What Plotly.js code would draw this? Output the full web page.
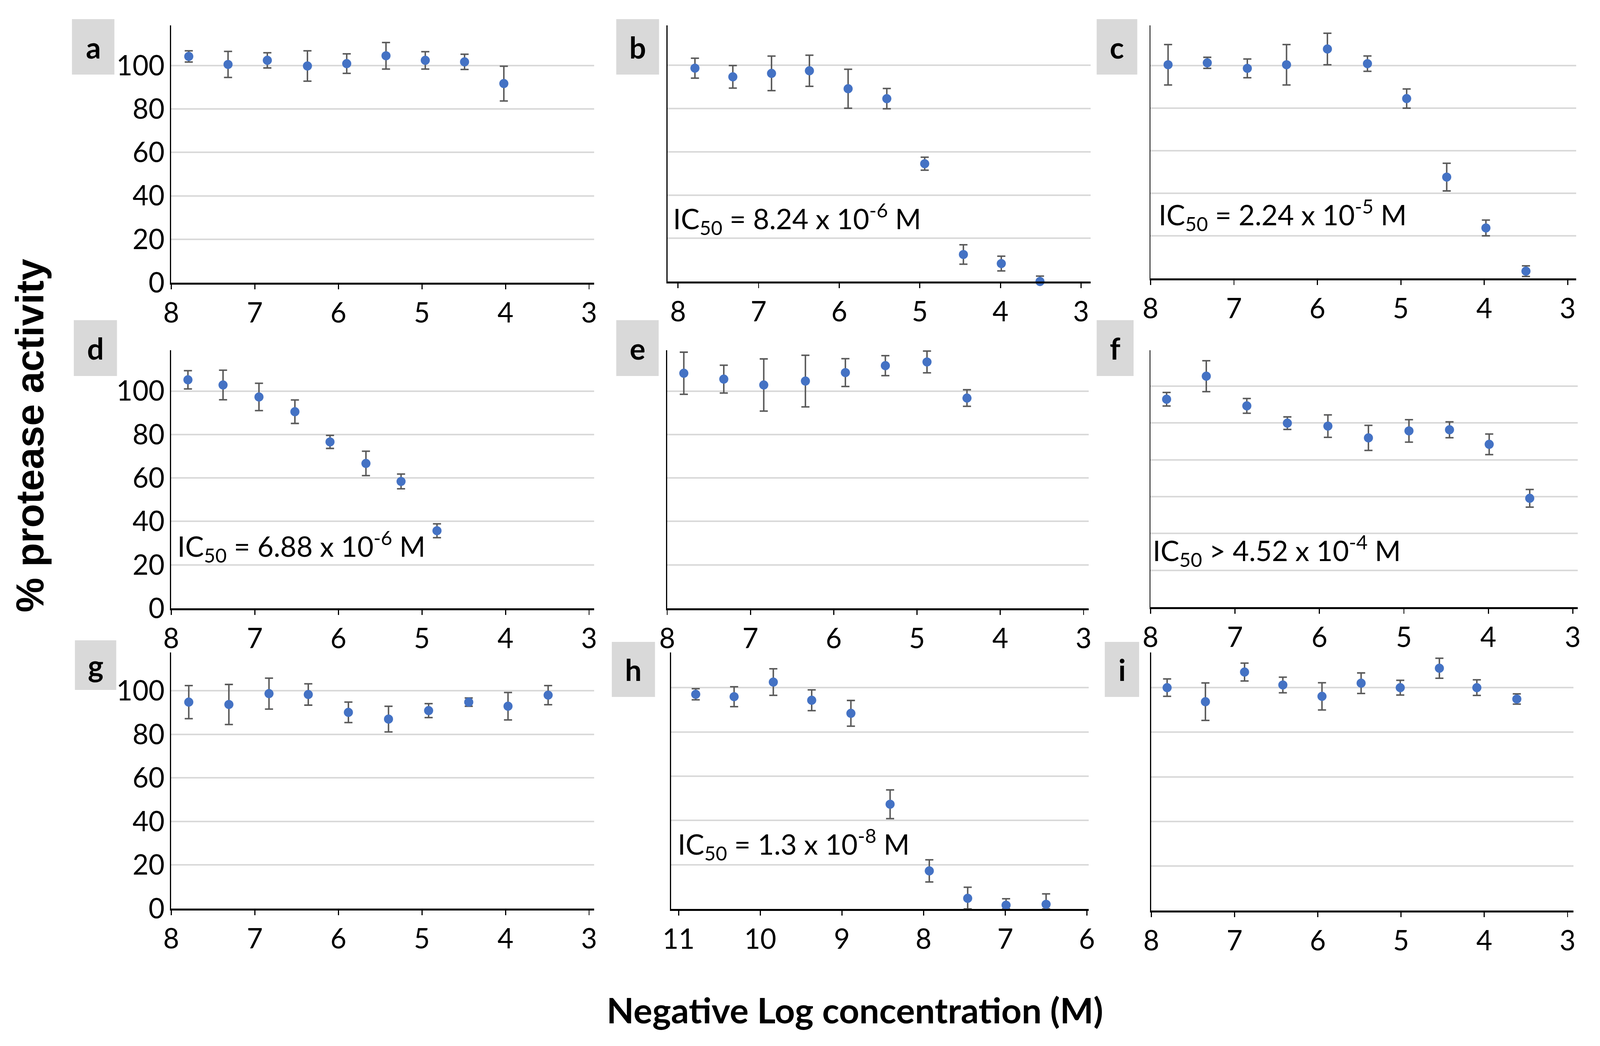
<!DOCTYPE html>
<html>
<head>
<meta charset="utf-8">
<script src="https://cdn.plot.ly/plotly-3.0.1.min.js"></script>
<style>
  html, body { margin: 0; padding: 0; background: #fff; overflow: hidden; }
</style>
</head>
<body>
<div id="chart_div"></div>
<script>
// values: x = negative log concentration, y = % activity, e = error
var xA = [7.79, 7.32, 6.85, 6.37, 5.90, 5.43, 4.96, 4.49, 4.02];
var yA = [104.2, 100.5, 102.4, 99.8, 100.9, 104.5, 102.4, 101.7, 91.7];
var eA = [2.6, 6.0, 3.5, 7.0, 4.5, 6.1, 4.0, 3.5, 8.0];

var xB = [7.79, 7.32, 6.84, 6.37, 5.89, 5.41, 4.94, 4.46, 3.99, 3.51];
var yB = [98.7, 94.7, 96.3, 97.5, 89.2, 84.6, 54.5, 12.5, 8.3, 0.0];
var eB = [4.6, 5.2, 8.0, 7.2, 9.0, 4.7, 3.0, 4.5, 3.4, 2.5];
var eBlow = [4.6, 5.2, 8.0, 7.2, 9.0, 4.7, 3.0, 4.5, 3.4, 0.0];

var xC = [7.79, 7.32, 6.84, 6.37, 5.88, 5.40, 4.93, 4.45, 3.98, 3.50];
var yC = [100.4, 101.3, 98.7, 100.4, 107.8, 100.9, 84.5, 47.6, 23.7, 3.4];
var eC = [9.5, 2.6, 4.4, 9.5, 7.4, 3.6, 4.5, 6.5, 3.7, 2.5];

var xD = [7.80, 7.38, 6.95, 6.52, 6.10, 5.67, 5.25, 4.82];
var yD = [105.2, 102.8, 97.3, 90.5, 76.6, 66.7, 58.4, 35.7];
var eD = [4.2, 6.8, 6.3, 5.4, 3.0, 5.6, 3.4, 3.2];

var xE = [7.80, 7.32, 6.84, 6.34, 5.86, 5.38, 4.88, 4.40];
var yE = [108.2, 105.5, 102.8, 104.6, 108.5, 111.7, 113.4, 96.8];
var eE = [9.7, 6.4, 12.0, 11.9, 6.4, 4.6, 5.0, 3.8];

var xF = [7.81, 7.34, 6.86, 6.38, 5.90, 5.42, 4.94, 4.46, 3.99, 3.51];
var yF = [112.9, 125.4, 109.3, 99.9, 98.3, 91.9, 95.7, 96.3, 88.4, 59.1];
var eF = [3.7, 8.4, 4.0, 3.4, 6.1, 6.8, 6.1, 4.3, 5.6, 4.8];

var xG = [7.79, 7.31, 6.83, 6.36, 5.88, 5.40, 4.92, 4.44, 3.97, 3.49];
var yG = [94.8, 93.7, 98.7, 98.3, 90.1, 87.0, 90.9, 94.8, 92.9, 98.0];
var eG = [7.6, 9.2, 7.1, 4.9, 4.7, 5.9, 3.2, 1.9, 6.3, 4.4];

var xH = [10.79, 10.32, 9.84, 9.37, 8.89, 8.41, 7.93, 7.46, 6.99, 6.50];
var yH = [97.0, 95.9, 102.5, 94.3, 88.4, 47.3, 17.2, 4.8, 1.7, 2.1];
var eH = [2.5, 4.5, 6.0, 4.7, 5.8, 6.5, 5.0, 5.0, 2.9, 4.7];
var eHlow = [2.5, 4.5, 6.0, 4.7, 5.8, 6.5, 5.0, 4.8, 1.7, 2.1];

var xI = [7.81, 7.35, 6.88, 6.42, 5.95, 5.48, 5.01, 4.54, 4.09, 3.61];
var yI = [100.0, 93.7, 107.0, 101.2, 96.1, 102.0, 100.0, 108.7, 100.0, 94.9];
var eI = [3.9, 8.4, 4.0, 3.5, 6.1, 4.6, 3.3, 4.5, 3.5, 2.3];

var panelLetters = ["a", "b", "c", "d", "e", "f", "g", "h", "i"];

var icB = "IC<sub>50</sub> = 8.24 x 10<sup>-6</sup> M";
var icC = "IC<sub>50</sub> = 2.24 x 10<sup>-5</sup> M";
var icD = "IC<sub>50</sub> = 6.88 x 10<sup>-6</sup> M";
var icF = "IC<sub>50</sub> &gt; 4.52 x 10<sup>-4</sup> M";
var icH = "IC<sub>50</sub> = 1.3 x 10<sup>-8</sup> M";

function drawChart() {
    // positions were measured on a 4336 x 2679 picture; the window can be narrower,
    // so lay out in fractions and scale pixel sizes
    var RW = 4336, RH = 2679;
    var W = window.innerWidth || RW;
    var H = window.innerHeight || RH;
    var sx = W / RW, sy = H / RH;
    var s = Math.min(sx, sy);
    function fx(p) { return p / RW; }
    function fy(p) { return 1 - p / RH; }

    // plot area [left, right, top, bottom] and letter box, in reference pixels
    var panels = [
        {x: xA, y: yA, e: eA, xr: [8, 2.94], yr: [0, 118.5], area: [464, 1610, 65, 724], box: [195, 310, 49, 191], lab: true},
        {x: xB, y: yB, e: eB, em: eBlow, xr: [8.13, 2.88], yr: [0, 118.5], area: [1809, 2956, 65, 721], box: [1670, 1786, 49, 191], ic: icB, icx: 0.011, icy: 29},
        {x: xC, y: yC, e: eC, xr: [8.0, 2.9], yr: [0, 118.9], area: [3118, 4271, 65, 713], box: [2972, 3082, 49, 191], ic: icC, icx: 0.017, icy: 30},
        {x: xD, y: yD, e: eD, xr: [8, 2.94], yr: [0, 118.8], area: [464, 1610, 897, 1558], box: [200, 317, 820, 963], lab: true, ic: icD, icx: 0.013, icy: 28.5},
        {x: xE, y: yE, e: eE, xr: [8, 2.94], yr: [0, 118.8], area: [1808, 2950, 897, 1558], box: [1670, 1785, 820, 963]},
        {x: xF, y: yF, e: eF, xr: [8, 2.94], yr: [0, 139.5], area: [3118, 4276, 897, 1555], box: [2972, 3072, 820, 963], ic: icF, icx: 0.003, icy: 30.7},
        {x: xG, y: yG, e: eG, xr: [8, 2.94], yr: [0, 117.6], area: [464, 1610, 1671, 2327], box: [203, 315, 1640, 1767], lab: true},
        {x: xH, y: yH, e: eH, em: eHlow, xr: [11.09, 5.98], yr: [0, 115.9], area: [1819, 2950, 1671, 2328], box: [1658, 1775, 1644, 1785], ic: icH, icx: 0.014, icy: 29.2},
        {x: xI, y: yI, e: eI, xr: [8, 2.93], yr: [0, 115.8], area: [3120, 4264, 1671, 2332], box: [2994, 3087, 1644, 1785]}
    ];

    var tickFont = {family: "Lato, sans-serif", size: 75 * s, color: "#000"};
    var data = [];
    var shapes = [];
    var annotations = [];
    var layout = {
        width: W,
        height: H,
        margin: {l: 0, r: 0, t: 0, b: 0},
        paper_bgcolor: "#fff",
        plot_bgcolor: "#fff",
        showlegend: false
    };

    for (var i = 0; i < panels.length; i++) {
        var p = panels[i];
        var n = i === 0 ? "" : String(i + 1);
        data.push({
            type: "scatter",
            mode: "markers",
            x: p.x,
            y: p.y,
            xaxis: "x" + n,
            yaxis: "y" + n,
            cliponaxis: false,
            marker: {color: "#4472C4", size: 24 * (sx + sy) / 2, symbol: "circle"},
            error_y: {
                type: "data",
                symmetric: !p.em,
                array: p.e,
                arrayminus: p.em || p.e,
                color: "#595959",
                thickness: 4 * sx,
                width: 11 * sx
            },
            hoverinfo: "x+y"
        });

        layout["xaxis" + n] = {
            domain: [fx(p.area[0]), fx(p.area[1])],
            anchor: "y" + n,
            range: p.xr,
            dtick: 1,
            tick0: 0,
            showgrid: false,
            zeroline: false,
            showline: true,
            linecolor: "#000",
            linewidth: 5 * sy,
            ticks: "outside",
            ticklen: 12 * sy,
            tickwidth: 3 * sx,
            tickcolor: "#000",
            tickfont: tickFont
        };
        layout["yaxis" + n] = {
            domain: [fy(p.area[3]), fy(p.area[2])],
            anchor: "x" + n,
            range: p.yr,
            dtick: 20,
            tick0: 0,
            showgrid: true,
            gridcolor: "#d9d9d9",
            gridwidth: 4 * sy,
            zeroline: false,
            showline: true,
            linecolor: "#000",
            linewidth: 3 * sx,
            ticks: "",
            showticklabels: !!p.lab,
            ticklabelstandoff: 8 * sx,
            tickfont: tickFont
        };

        shapes.push({
            type: "rect", xref: "paper", yref: "paper",
            x0: fx(p.box[0]), x1: fx(p.box[1]),
            y0: fy(p.box[3]), y1: fy(p.box[2]),
            fillcolor: "#d9d9d9", line: {width: 0}, layer: "below"
        });
        annotations.push({
            xref: "paper", yref: "paper",
            x: fx((p.box[0] + p.box[1]) / 2),
            y: fy((p.box[2] + p.box[3]) / 2),
            text: "<b>" + panelLetters[i] + "</b>",
            showarrow: false,
            xanchor: "center", yanchor: "middle",
            font: {family: "Lato, sans-serif", size: 80 * s, color: "#000"}
        });

        if (p.ic) {
            annotations.push({
                xref: "x" + n + " domain", yref: "y" + n,
                x: p.icx, y: p.icy,
                text: p.ic,
                showarrow: false,
                xanchor: "left", yanchor: "middle",
                font: {family: "Lato, sans-serif", size: 76 * s, color: "#000"}
            });
        }
    }

    // shared axis titles
    annotations.push({
        xref: "paper", yref: "paper",
        x: fx(80), y: fy(1116),
        text: "<b>% protease activity</b>",
        textangle: -90,
        showarrow: false,
        xanchor: "center", yanchor: "middle",
        font: {family: "Liberation Sans, Arial, sans-serif", size: 100 * sy, color: "#000"}
    });
    annotations.push({
        xref: "paper", yref: "paper",
        x: fx(2317), y: fy(2585),
        text: "<b>Negative Log concentration (M)</b>",
        showarrow: false,
        xanchor: "center", yanchor: "middle",
        font: {family: "Lato, sans-serif", size: 96 * sx, color: "#000"}
    });

    layout.shapes = shapes;
    layout.annotations = annotations;

    Plotly.newPlot("chart_div", data, layout, {staticPlot: true});
}

drawChart();
</script>
</body>
</html>
